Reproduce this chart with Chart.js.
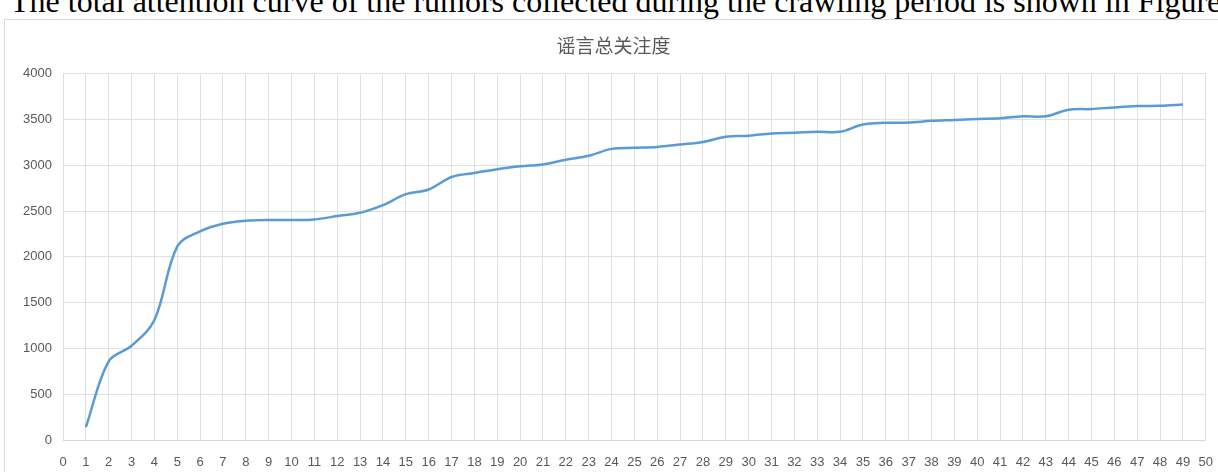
<!DOCTYPE html>
<html>
<head>
<meta charset="utf-8">
<script src="https://cdn.jsdelivr.net/npm/chart.js@4"></script>
<style>
  html, body { margin: 0; padding: 0; background: #fff; overflow: hidden; }
  body { width: 1218px; height: 472px; position: relative; }
  #caption {
    position: absolute; left: 10px; top: -15px; white-space: nowrap;
    font-family: "Liberation Serif", "Times New Roman", serif;
    font-size: 32px; line-height: 32px; color: #000;
  }
  #box {
    position: absolute; left: 4px; top: 19px; width: 1230px; height: 470px;
    border: 1px solid #d9d9d9; box-sizing: border-box;
  }
  #wrap { position: absolute; left: 5px; top: 20px; width: 1223px; height: 452px; }
</style>
</head>
<body>
<div id="caption">The total attention curve of the rumors collected during the crawling period is shown in Figure</div>
<div id="box"></div>
<div id="wrap"><canvas id="attentionChart"></canvas></div>
<script>
// 图表数据
const days = [1, 2, 3, 4, 5, 6, 7, 8, 9, 10, 11, 12, 13, 14, 15, 16, 17, 18, 19, 20,
              21, 22, 23, 24, 25, 26, 27, 28, 29, 30, 31, 32, 33, 34, 35, 36, 37, 38, 39, 40,
              41, 42, 43, 44, 45, 46, 47, 48, 49];
const attention = [140, 860, 1030, 1310, 2115, 2280, 2363, 2395, 2404, 2403, 2409, 2446, 2482, 2565, 2685, 2736, 2873, 2917, 2957, 2989,
                   3010, 3061, 3104, 3180, 3191, 3201, 3227, 3255, 3313, 3324, 3349, 3356, 3367, 3367, 3446, 3464, 3468, 3486, 3496, 3507,
                   3514, 3536, 3536, 3608, 3615, 3633, 3647, 3651, 3665];
const chartTitle = '谣言总关注度';
const xRange = [0, 50];
const yRange = [0, 4000];

const points = days.map((d, i) => ({ x: d, y: attention[i] }));

const ctx = document.getElementById('attentionChart').getContext('2d');
new Chart(ctx, {
    type: 'line',
    data: {
        datasets: [{
            label: chartTitle,
            data: points,
            borderColor: '#5b9bd5',
            borderWidth: 2.5,
            pointRadius: 0,
            tension: 0.35,
            fill: false
        }]
    },
    options: {
        responsive: true,
        maintainAspectRatio: false,
        animation: false,
        layout: { padding: { left: 0, right: 6, top: 0, bottom: 0 } },
        plugins: {
            legend: { display: false },
            tooltip: { enabled: false },
            title: {
                display: true,
                text: chartTitle,
                color: '#595959',
                font: { family: '"Noto Sans CJK SC", sans-serif', size: 19, weight: 'normal', lineHeight: 1.2 },
                padding: { top: 14, bottom: 17 }
            }
        },
        scales: {
            x: {
                type: 'linear',
                min: xRange[0],
                max: xRange[1],
                ticks: {
                    stepSize: 1,
                    autoSkip: false,
                    maxRotation: 0,
                    padding: 15,
                    color: '#595959',
                    font: { family: '"Liberation Sans", Arial, sans-serif', size: 13 }
                },
                grid: { color: '#e0e0e0', drawTicks: false },
                border: { color: '#d9d9d9' },
                afterFit: (scale) => { scale.height = 32; }
            },
            y: {
                min: yRange[0],
                max: yRange[1],
                ticks: {
                    stepSize: 500,
                    padding: 11,
                    color: '#595959',
                    font: { family: '"Liberation Sans", Arial, sans-serif', size: 13 },
                    callback: (v) => String(v)
                },
                grid: { color: '#e0e0e0', drawTicks: false },
                border: { display: false },
                afterFit: (scale) => { scale.width = 58; }
            }
        }
    }
});
</script>
</body>
</html>
